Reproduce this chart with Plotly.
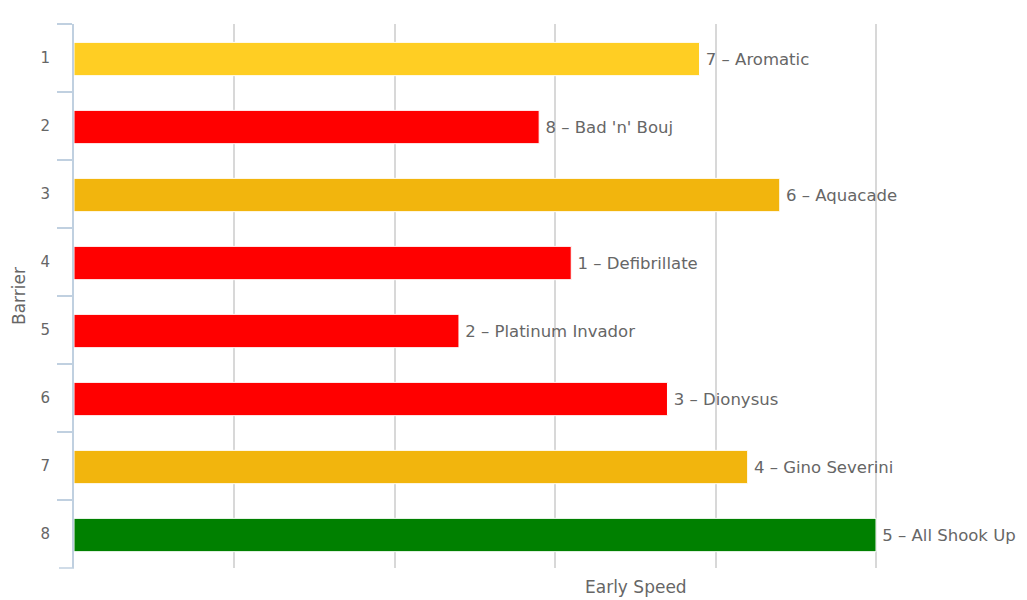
import plotly.graph_objects as go

barriers = ["1", "2", "3", "4", "5", "6", "7", "8"]
speed = [78, 58, 88, 62, 48, 74, 84, 100]
runners = [
    "7 – Aromatic",
    "8 – Bad 'n' Bouj",
    "6 – Aquacade",
    "1 – Defibrillate",
    "2 – Platinum Invador",
    "3 – Dionysus",
    "4 – Gino Severini",
    "5 – All Shook Up",
]
colors = ["#FFCE23", "#FF0000", "#F2B50D", "#FF0000", "#FF0000", "#FF0000", "#F2B50D", "#008000"]
grid_ticks = [20, 40, 60, 80, 100]

FONT = "DejaVu Sans"
GREY = "#666666"
AXIS_BLUE = "#C0D0E0"

fig = go.Figure()
fig.add_trace(go.Bar(
    x=speed,
    y=barriers,
    orientation="h",
    text=runners,
    texttemplate="\u2009%{text}",
    textposition="outside",
    cliponaxis=False,
    textfont=dict(family=FONT, size=16.5, color=GREY),
    marker=dict(color=colors, line=dict(color="white", width=1)),
    width=0.49,
    offset=-0.23,
))
fig.update_layout(
    width=1027,
    height=600,
    autosize=False,
    paper_bgcolor="white",
    plot_bgcolor="white",
    showlegend=False,
    font=dict(family=FONT, color=GREY),
    margin=dict(l=74, r=149, t=24, b=32),
    annotations=[
        dict(text="Early Speed", xref="paper", yref="paper", x=0.699, y=-0.035,
             xanchor="center", yanchor="middle", showarrow=False,
             font=dict(family=FONT, size=17, color=GREY)),
    ],
    # tickson boundaries leaves out the closing tick
    shapes=[
        dict(type="line", xref="paper", yref="paper", x0=-0.0187, x1=0, y0=0, y1=0,
             line=dict(color=AXIS_BLUE, width=1.5)),
    ],
)
# range runs a little past 100, plotly drops a gridline sitting on the plot edge
fig.update_xaxes(
    range=[0, 100.25],
    tickvals=grid_ticks,
    showticklabels=False,
    showgrid=True,
    gridcolor="#D8D8D8",
    gridwidth=2,
    zeroline=False,
    showline=False,
    ticks="",
)
fig.update_yaxes(
    type="category",
    categoryorder="array",
    categoryarray=barriers,
    autorange="reversed",
    tickson="boundaries",
    ticks="outside",
    ticklen=15,
    tickwidth=1.5,
    tickcolor=AXIS_BLUE,
    showline=True,
    linecolor=AXIS_BLUE,
    linewidth=2,
    showgrid=False,
    zeroline=False,
    ticklabelstandoff=19,
    tickfont=dict(family=FONT, size=15, color=GREY),
    title=dict(text="Barrier", font=dict(family=FONT, size=17, color=GREY), standoff=11),
)

# page body has an 8px margin by default, drop it so the figure fills the window
fig.write_html("out.html", config=dict(displayModeBar=False),
               post_script="document.body.style.margin='0';")
